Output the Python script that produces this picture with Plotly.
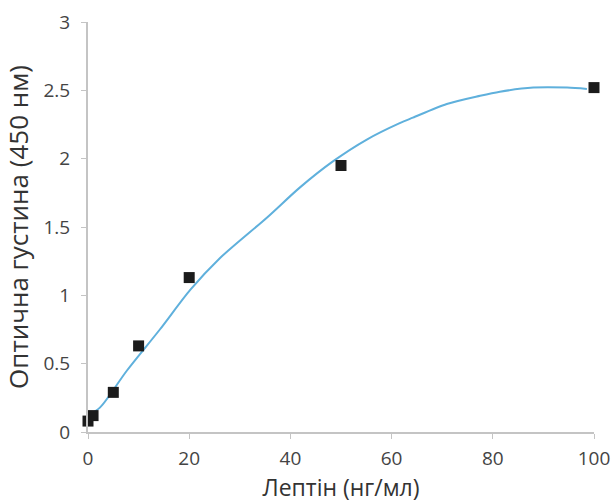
import plotly.graph_objects as go

# Measured data points (leptin ng/ml vs optical density 450 nm)
leptin = [0, 1, 5, 10, 20, 50, 100]
od = [0.08, 0.12, 0.29, 0.63, 1.13, 1.95, 2.52]

# Fitted curve
curve_x = [0, 2.4, 7.7, 14.2, 20.2, 26, 35.4, 41.9, 48.4, 55.1, 61.6,
           64.2, 70.9, 77.5, 81.4, 88, 94.7, 98.6]
curve_y = [0.12, 0.18, 0.45, 0.75, 1.04, 1.27, 1.57, 1.79, 1.98, 2.14, 2.26,
           2.30, 2.40, 2.46, 2.49, 2.52, 2.52, 2.51]

x_ticks = [0, 20, 40, 60, 80, 100]
y_ticks = [0, 0.5, 1, 1.5, 2, 2.5, 3]
y_tick_text = ["0", "0.5", "1", "1.5", "2", "2.5", "3"]

fig = go.Figure()
fig.add_trace(go.Scatter(x=curve_x, y=curve_y, mode="lines",
                         line=dict(color="#5fb0dc", width=2, shape="spline", smoothing=0.8),
                         hoverinfo="skip", cliponaxis=False))
fig.add_trace(go.Scatter(x=leptin, y=od, mode="markers",
                         marker=dict(symbol="square", size=11, color="#1b1b1b"),
                         cliponaxis=False))

axis_common = dict(showgrid=False, zeroline=False, showline=True, linecolor="#c4c4c4",
                   linewidth=2, ticks="outside", ticklen=5, tickcolor="#c4c4c4", tickwidth=1,
                   automargin=False,
                   tickfont=dict(family="Open Sans", size=19, color="#444444"))

fig.update_layout(
    width=614, height=504, plot_bgcolor="white", paper_bgcolor="white",
    margin=dict(l=88, r=20, t=22, b=72), showlegend=False,
    font=dict(family="Open Sans"),
    xaxis=dict(range=[0, 100], tickvals=x_ticks, ticktext=[str(v) for v in x_ticks],
               ticklabelstandoff=3,
               title=dict(text="Лептін (нг/мл)", font=dict(size=23, color="#333333"), standoff=8),
               **axis_common),
    yaxis=dict(range=[0, 3], tickvals=y_ticks, ticktext=y_tick_text,
               ticklabelstandoff=7,
               title=dict(text="Оптична густина (450 нм)", font=dict(size=26, color="#333333"), standoff=10),
               **axis_common),
)

# remove the default 8px page margin so the 614x504 figure fills the window exactly
fig.write_html("out.html", config={"displayModeBar": False},
               post_script="document.body.style.margin='0';document.body.style.overflow='hidden';")
